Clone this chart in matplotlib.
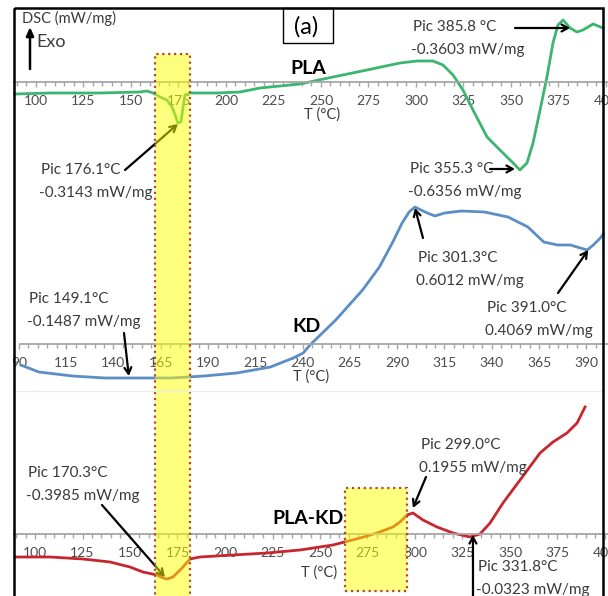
import matplotlib
matplotlib.use("Agg")
import matplotlib.pyplot as plt
from matplotlib.patches import Rectangle

plt.rcParams["font.family"] = ["Lato", "DejaVu Sans"]

W, H = 608, 596  # figure size in pixels

# ---- data (T in degC, DSC signal in arbitrary units, 0 = axis line)
pla_T = [88.9, 107.4, 133.7, 154.7, 158.4, 161.6, 165.3, 168.9, 171.6, 173.2, 174.7, 176.3,
         177.4, 178.4, 181.1, 195.3, 207.4, 217.9, 228.4, 238.9, 256.3, 274.2, 291.6, 300.5,
         308.9, 314.2, 319.5, 324.7, 330.0, 337.4, 344.2, 351.1, 354.7, 358.4, 361.6, 365.3,
         368.9, 372.1, 374.7, 377.4, 381.1, 384.7, 387.9, 393.2, 398.4]
pla_dsc = [-12, -11, -11, -10, -9, -11, -15, -18, -25, -33, -41, -40,
           -25, -13, -11, -11, -10, -6, -4, -2, 5, 12, 19, 21,
           21, 17, 7, -8, -28, -55, -68, -81, -88, -81, -61, -28,
           5, 39, 57, 62, 54, 50, 52, 58, 54]

kd_T = [91.0, 100.5, 118.3, 135.5, 152.8, 170.6, 187.9, 205.2, 223.0, 235.0, 240.3, 243.9,
        257.5, 271.7, 280.6, 287.4, 292.6, 296.3, 299.4, 304.7, 309.9, 315.1, 324.0, 336.1,
        348.6, 359.1, 367.5, 374.8, 381.6, 386.8, 390.5, 393.7, 397.4, 399.0]
kd_dsc = [-21, -28, -32, -34, -34, -34, -32, -29, -23, -14, -9, -1,
          24, 54, 77, 101, 121, 132, 137, 132, 128, 131, 133, 132,
          127, 117, 102, 99, 99, 96, 94, 99, 106, 110]

plakd_T = [89.5, 107.9, 125.3, 139.5, 150.0, 156.8, 164.2, 167.4, 169.5, 172.6, 177.4, 181.6,
           186.8, 204.2, 222.1, 239.5, 256.8, 271.1, 280.0, 288.4, 292.1, 295.8, 298.9, 304.2,
           311.6, 320.0, 328.9, 334.2, 339.5, 346.3, 355.3, 365.8, 372.6, 380.0, 385.3, 389.5]
plakd_dsc = [-23, -23, -25, -28, -33, -38, -41, -44, -45, -43, -34, -25,
             -23, -21, -19, -16, -11, -4, 1, 7, 12, 19, 21, 14,
             7, 1, -3, 0, 11, 31, 54, 81, 92, 101, 111, 127]

pla_ticks = [100, 125, 150, 175, 200, 225, 250, 275, 300, 325, 350, 375, 400]
kd_ticks = [90, 115, 140, 165, 190, 215, 240, 265, 290, 315, 340, 365, 390]
plakd_ticks = [100, 125, 150, 175, 200, 225, 250, 275, 300, 325, 350, 375, 400]

# highlighted temperature windows (on the PLA-KD scale)
highlight_T = [(163.2, 181.6), (263.2, 295.8)]

GRAY = "#a6a6a6"
TXT = "#3a3a3a"

fig = plt.figure(figsize=(W / 100, H / 100), dpi=100)


def panel(T0, px0, ppd, axis_y, ticks):
    """Axes spanning the whole figure; T0 sits at pixel px0, ppd px per degC, 1 a.u. = 1 px."""
    ax = fig.add_axes([0, 0, 620 / W, 1])
    ax.set_xlim(T0 - px0 / ppd, T0 + (620 - px0) / ppd)
    ax.set_ylim(axis_y - H, axis_y)
    ax.patch.set_visible(False)
    for s in ("left", "right", "top"):
        ax.spines[s].set_visible(False)
    ax.spines["bottom"].set_position(("data", 0))
    ax.spines["bottom"].set_bounds(T0 + (14 - px0) / ppd, T0 + (620 - px0) / ppd)
    ax.spines["bottom"].set_color(GRAY)
    ax.spines["bottom"].set_linewidth(1.3)
    ax.set_yticks([])
    ax.set_xticks(ticks)
    ax.set_xticks(range(ticks[0] - 10, ticks[-1] + 10, 5), minor=True)
    ax.tick_params(axis="x", which="both", direction="out", color=GRAY, width=1, length=3.5,
                   pad=6, labelsize=10, labelcolor="#4d4d4d")
    ax.tick_params(axis="x", which="minor", length=3)
    return ax


ax_pla = panel(100, 36, 1.9, 82, pla_ticks)
ax_pla.plot(pla_T, pla_dsc, color="#3cb56e", lw=2)

ax_kd = panel(90, 13, 1.91, 344, kd_ticks)
ax_kd.plot(kd_T, kd_dsc, color="#5b8ec4", lw=2)

ax_pk = panel(100, 35, 1.9, 534, plakd_ticks)
ax_pk.plot(plakd_T, plakd_dsc, color="#c8262f", lw=2)

# yellow windows (vertical extent in figure fraction)
spans_y = [(1 - 600 / H, 1 - 54 / H), (1 - 591 / H, 1 - 488 / H)]
for (t1, t2), (y1, y2) in zip(highlight_T, spans_y):
    ax_pk.axvspan(t1, t2, y1, y2, facecolor=(1, 1, 0, 0.5), edgecolor="#b5472e",
                  linestyle=":", lw=1.6, zorder=5)

# overlay in pixel coordinates for frame and texts
ov = fig.add_axes([0, 0, 1, 1])
ov.set_xlim(0, W)
ov.set_ylim(H, 0)
ov.axis("off")
ov.patch.set_visible(False)

ov.add_patch(Rectangle((0, 0), 13, H, fc="white", ec="none", zorder=9))
ov.add_patch(Rectangle((14, 8), 589, 600, fill=False, ec="black", lw=1.8, zorder=10))
ov.add_patch(Rectangle((283, 8), 50, 35, fill=False, ec="black", lw=1.0, zorder=10))
ov.text(306, 27, "(a)", fontsize=17, ha="center", va="center", color="black")
ov.plot([14, 603], [391, 391], color="#ebebeb", lw=1)

ov.text(22, 18, "DSC (mW/mg)", fontsize=10.5, ha="left", va="center", color=TXT)
ov.annotate("", xy=(30, 27), xytext=(30, 69),
            arrowprops=dict(arrowstyle="-|>,head_length=0.5,head_width=0.22", lw=1.8,
                            color="black", shrinkA=0, shrinkB=0))
ov.text(36, 42, "Exo", fontsize=13, ha="left", va="center", color=TXT)

ov.text(290, 68, "PLA", fontsize=14, fontweight="bold", ha="left", va="center")
ov.text(292, 327, "KD", fontsize=14, fontweight="bold", ha="left", va="center")
ov.text(272, 518, "PLA-KD", fontsize=14, fontweight="bold", ha="left", va="center")

for x, y in [(322, 115), (311, 377), (319, 573)]:
    ov.text(x, y, "T (°C)", fontsize=10.5, ha="center", va="center", color=TXT)

arrow = dict(arrowstyle="->,head_length=0.45,head_width=0.25", lw=1.6, color="black",
             shrinkA=0, shrinkB=0)

# (axes, tip in data, tail in pixels, text lines, text left/top in pixels)
notes = [
    (ax_pla, (174.7, -42), (125, 170), "Pic 176.1°C", "-0.3143 mW/mg", (41, 170)),
    (ax_pla, (381.1, 54), (515, 28), "Pic 385.8 °C", "-0.3603 mW/mg", (413, 27)),
    (ax_pla, (352.1, -87), (490, 169), "Pic 355.3 °C", "-0.6356 mW/mg", (410, 169)),
    (ax_kd, (299.4, 136), (423, 238), "Pic 301.3°C", "0.6012 mW/mg", (418, 258)),
    (ax_kd, (391.0, 94), (558, 293), "Pic 391.0°C", "0.4069 mW/mg", (487, 308)),
    (ax_kd, (148.1, -32), (124, 333), "Pic 149.1°C", "-0.1487 mW/mg", (29, 299)),
    (ax_pk, (168.4, -43), (102, 505), "Pic 170.3°C", "-0.3985 mW/mg", (28, 473)),
    (ax_pk, (298.9, 26), (426, 477), "Pic 299.0°C", "0.1955 mW/mg", (421, 445)),
    (ax_pk, (330.5, -1), (473, 610), "Pic 331.8°C", "-0.0323 mW/mg", (478, 567)),
]
for ax, tip, tail, l1, l2, (tx, ty) in notes:
    ax.annotate("", xy=tip, xycoords="data", xytext=tail, textcoords=ov.transData,
                arrowprops=arrow, annotation_clip=False)
    ov.text(tx, ty, l1, fontsize=11, ha="left", va="center", color=TXT)
    ov.text(tx - 2, ty + 23, l2, fontsize=11, ha="left", va="center", color=TXT)

fig.savefig("out.png", dpi=100)
